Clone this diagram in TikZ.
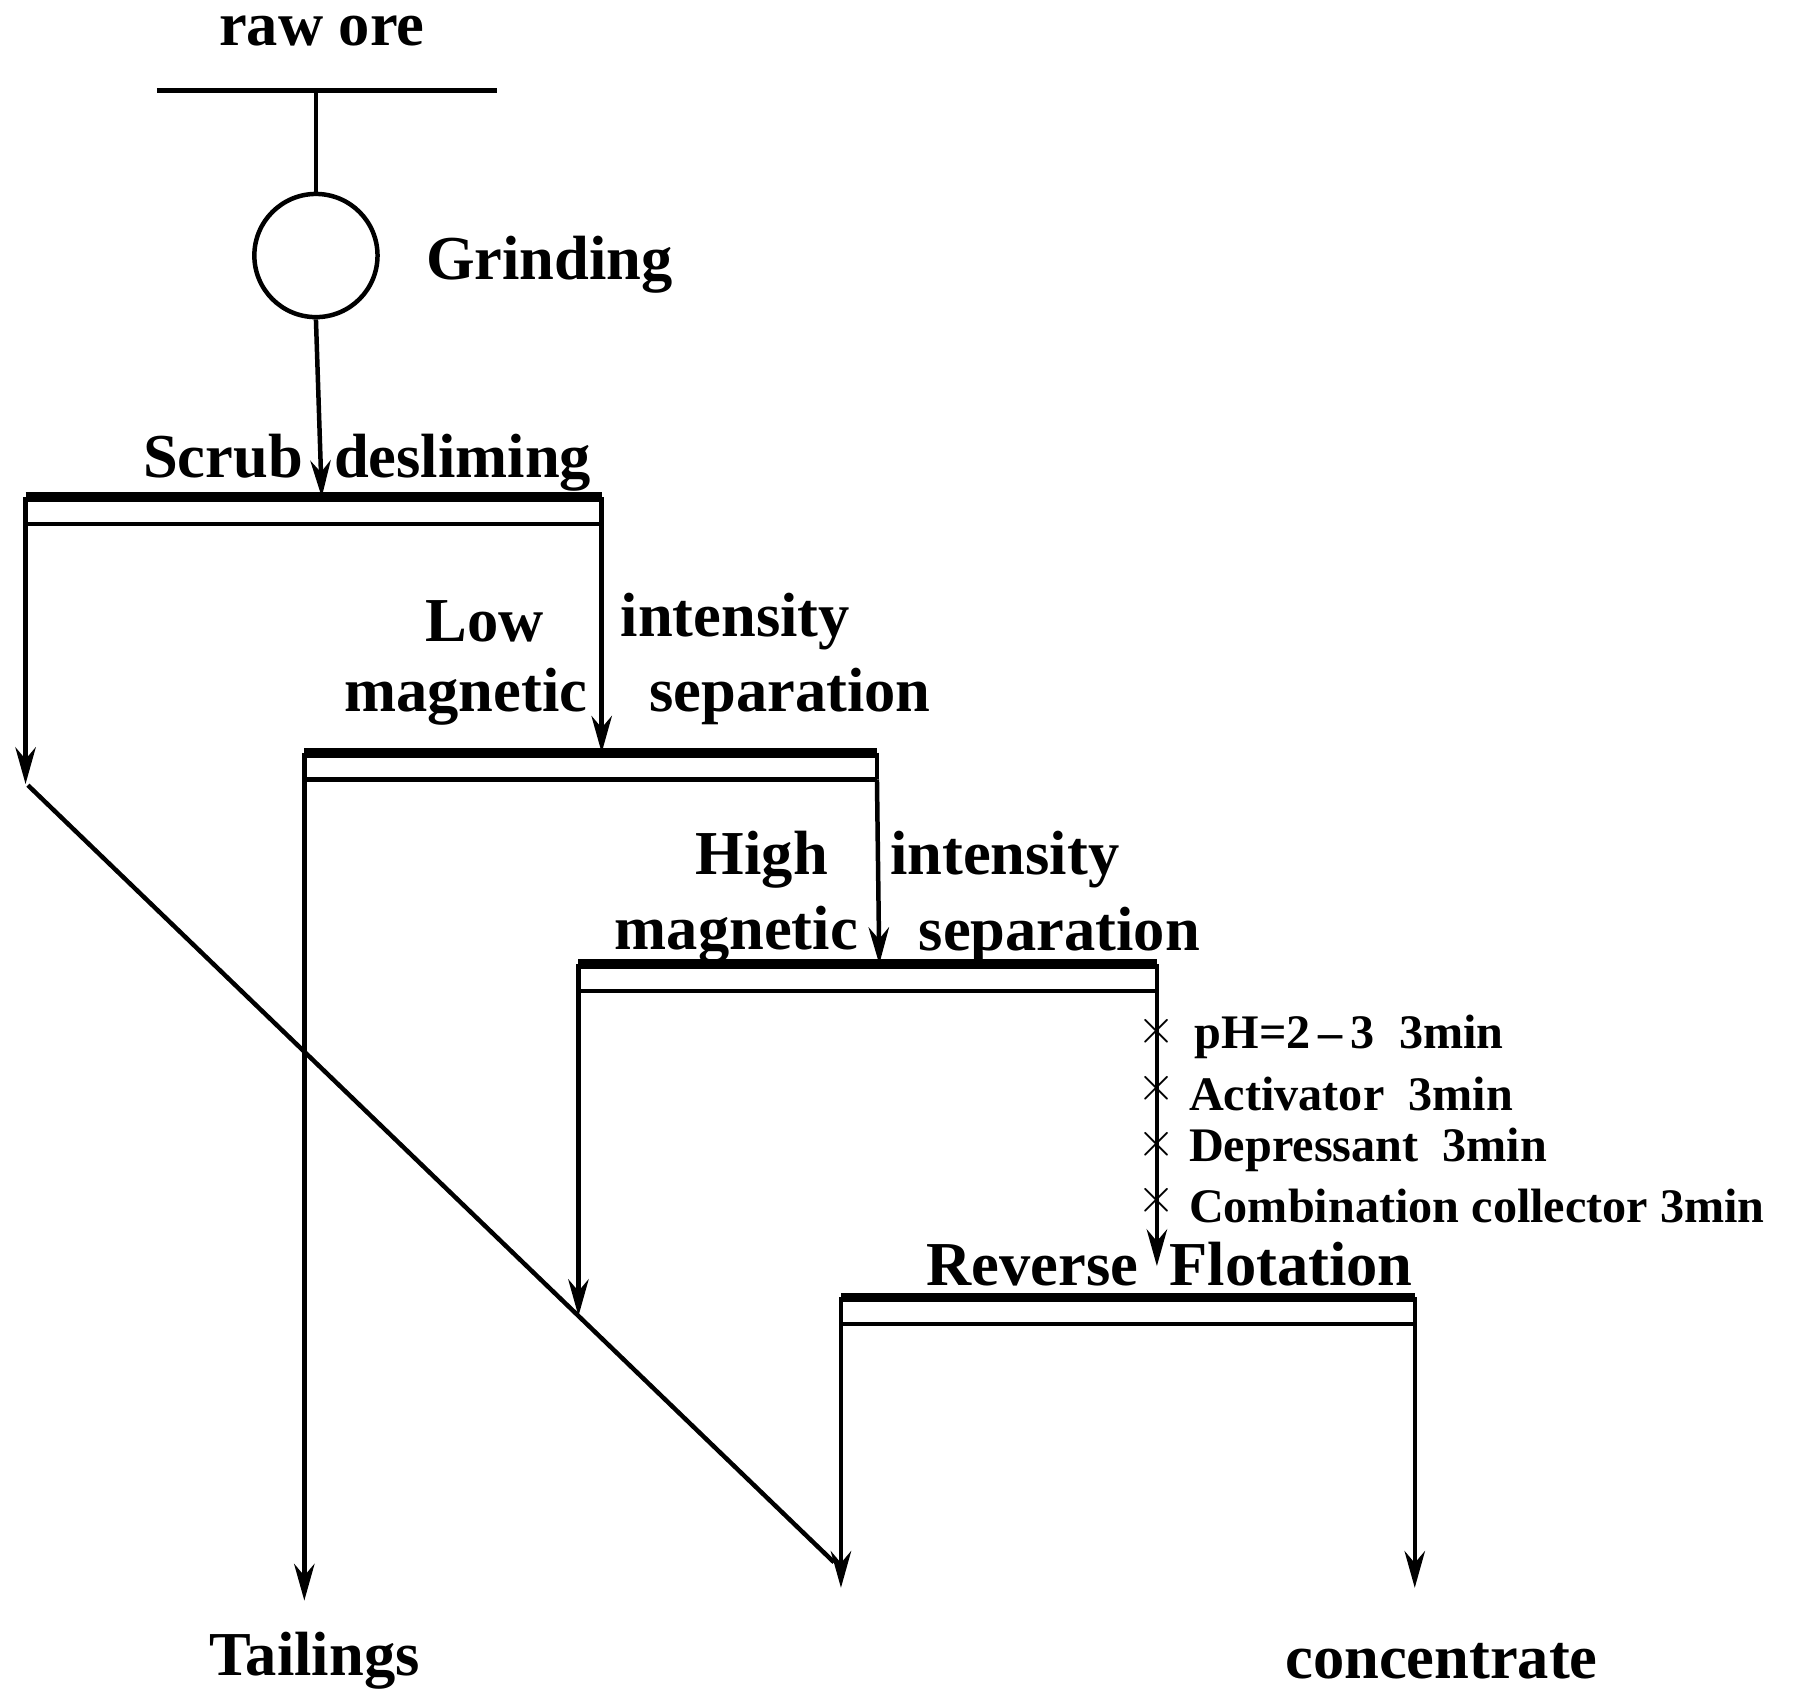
\documentclass[tikz,border=0pt]{standalone}
\usepackage{fontspec}
\setmainfont{Liberation Serif}
\usetikzlibrary{arrows.meta}
\begin{document}
\begin{tikzpicture}[x=0.01cm,y=-0.01cm,
  ln/.style={line width=1.1pt},
  thick screen/.style={line width=2.4pt},
  arr/.style={ln,-{Stealth[length=9pt,width=5pt]}},
  big/.style={font=\fontsize{15.3}{18}\selectfont\bfseries,inner sep=0pt},
  small/.style={font=\fontsize{11.8}{14}\selectfont\bfseries,inner sep=0pt,anchor=west}]
\useasboundingbox (0,0) rectangle (1560,1464);
% feed
\coordinate (f1) at (135,78); \coordinate (f2) at (428,78); \coordinate (f3) at (272,78);
\draw[ln] (f1) -- (f2);
\node[circle,draw,line width=1.1pt,inner sep=0pt,minimum size=1.06cm] (mill) at (272,220) {};
\draw[ln] (f3) -- (mill.north);
% screens
\newcommand{\screen}[4]{% name, x1, x2, y
  \draw[thick screen] (#2,#4) -- (#3,#4);
  \draw[ln] (#2,#4+23) -- (#3,#4+23);
  \draw[ln] (#2,#4) -- (#2,#4+23);
  \draw[ln] (#3,#4) -- (#3,#4+23);
  \coordinate (#1L) at (#2,#4+23); \coordinate (#1R) at (#3,#4+23);}
\screen{s1}{22}{518}{428}
\screen{s2}{262}{755}{648}
\screen{s3}{498}{996}{830}
\screen{s4}{724}{1218}{1117}
\coordinate (s1in) at (277,428); \coordinate (s2in) at (518,648);
\coordinate (s3in) at (757,830); \coordinate (s4in) at (996,1090);
\draw[arr] (mill.south) -- (s1in);
\draw[arr] (s1R) -- (s2in);
\draw[arr] (s2R) -- (s3in);
\draw[arr] (s3R) -- (s4in);
\coordinate (t1) at (22,675); \coordinate (t2) at (262,1378);
\coordinate (t3) at (498,1133); \coordinate (t4) at (724,1367); \coordinate (c1) at (1218,1367);
\coordinate (d1) at (24,676); \coordinate (d2) at (718,1345);
\draw[arr] (s1L) -- (t1);
\draw[ln] (d1) -- (d2);
\draw[arr] (s2L) -- (t2);
\draw[arr] (s3L) -- (t3);
\draw[arr] (s4L) -- (t4);
\draw[arr] (s4R) -- (c1);
\foreach \yy in {888,937,985,1033}{\node[font=\fontsize{13}{14}\selectfont,inner sep=0pt] (x\yy) at (996,\yy) {$\times$};}
% labels
\node[big] (raw) at (277,27) {raw ore};
\node[big] (grind) at (473,228) {Grinding};
\node[big] (scrub) at (316,398) {Scrub\ \ desliming};
\node[big] (low) at (417,535) {Low};
\node[big] (int1) at (633,535) {intensity};
\node[big] (mag1) at (401,600) {magnetic};
\node[big] (sep1) at (680,600) {separation};
\node[big] (high) at (656,740) {High};
\node[big] (int2) at (865,740) {intensity};
\node[big] (mag2) at (634,805) {magnetic};
\node[big] (sep2) at (912,805) {separation};
\node[big] (rf) at (1007,1088) {Reverse\ \ Flotation};
\node[big] (tail) at (271,1430) {Tailings};
\node[big] (conc) at (1241,1430) {concentrate};
\node[small] (r1) at (1028,893) {pH=2\,–\,3\ \ 3min};
\node[small] (r2) at (1023,942) {Activator\ \ 3min};
\node[small] (r3) at (1023,990) {Depressant\ \ 3min};
\node[small] (r4) at (1023,1038) {Combination collector 3min};
\end{tikzpicture}
\end{document}
